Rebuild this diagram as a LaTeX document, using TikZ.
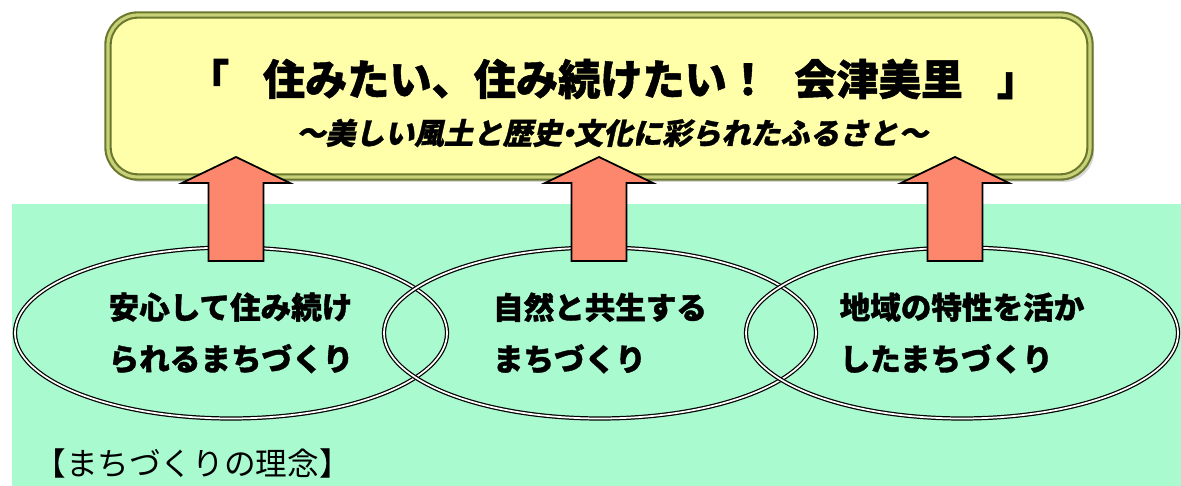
\documentclass[tikz,border=0pt]{standalone}
\usepackage{fontspec}
\usepackage{tikz}
\usetikzlibrary{shapes.geometric,shadows}

\newfontfamily\jpfont{Noto Sans CJK JP}[BoldFeatures={FakeBold=1.2}]
\newfontfamily\jpslant{Noto Sans CJK JP}[FakeSlant=0.22,BoldFeatures={FakeBold=1}]

\definecolor{bgmint}{RGB}{170,250,208}
\definecolor{boxyellow}{RGB}{255,255,170}
\definecolor{boxolive}{RGB}{105,120,45}
\definecolor{boxgap}{RGB}{200,208,120}
\definecolor{arrowsalmon}{RGB}{252,135,108}

\begin{document}
\begin{tikzpicture}[
	ellipsebox/.style={ellipse, draw=black, line width=0.35pt, double=white,
		double distance=0.5pt, minimum width=4.32cm, minimum height=1.71cm,
		inner sep=0pt, align=left, font=\jpfont\bfseries\fontsize{8.7}{14.7}\selectfont},
	blockarrow/.style={fill=arrowsalmon, draw=black, line width=0.5pt, line join=miter}
]

	\useasboundingbox (0,0) rectangle (11.81,-4.86);
	\fill[bgmint] (0.12,-2.04) rectangle (11.81,-4.86);

	% top box
	\node[draw=boxolive, line width=0.6pt, double=boxgap, double distance=0.9pt,
		fill=boxyellow, rounded corners=0.3cm, minimum width=9.82cm, minimum height=1.62cm,
		drop shadow={shadow xshift=0.04cm, shadow yshift=-0.05cm, fill=black!30}]
		(goal) at (5.99,-0.96) {};
	\node[font=\jpfont\bfseries\fontsize{12}{14}\selectfont] (maintitle) at (6.13,-0.79)
		{「\hspace{0.8em}住みたい、住み続けたい！\hspace{0.6em}会津美里\hspace{0.8em}」};
	\node[font=\jpslant\bfseries\fontsize{8.4}{10}\selectfont] (subtitle) at (6.12,-1.33)
		{～美しい風土と歴史\kern-0.3em・\kern-0.3em文化に彩られたふるさと～};

	% the three ideas
	\node[ellipsebox] (safe) at (2.31,-3.33) {安心して住み続け\\られるまちづくり};
	\node[ellipsebox] (nature) at (6.00,-3.33) {自然と共生する\\まちづくり};
	\node[ellipsebox] (local) at (9.62,-3.33) {地域の特性を活か\\したまちづくり};

	% arrows up to the box
	\foreach \x in {2.36,5.99,9.55}
		\draw[blockarrow] (\x-0.275,-2.61) -- (\x-0.275,-1.83) -- (\x-0.54,-1.83) -- (\x,-1.57)
			-- (\x+0.54,-1.83) -- (\x+0.275,-1.83) -- (\x+0.275,-2.61) -- cycle;

	\node[anchor=west, font=\jpfont\fontsize{9}{10}\selectfont] (concept) at (0.22,-4.63)
		{【まちづくりの理念】};

\end{tikzpicture}
\end{document}
